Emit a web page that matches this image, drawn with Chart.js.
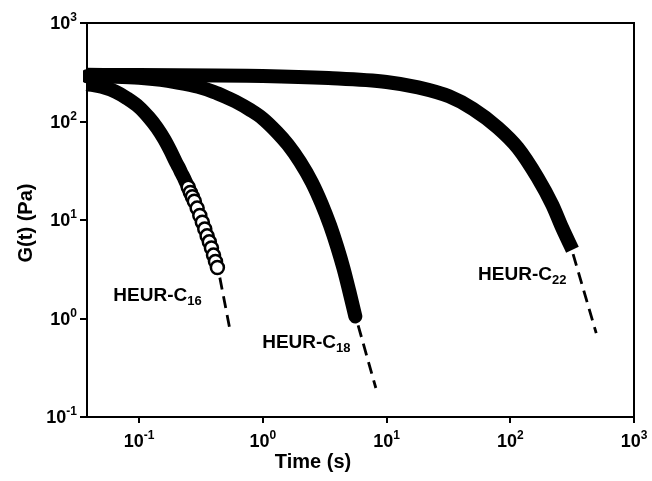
<!DOCTYPE html>
<html>
<head>
<meta charset="utf-8">
<script src="https://cdn.jsdelivr.net/npm/chart.js@4.4.0/dist/chart.umd.min.js"></script>
<style>
  body { margin: 0; background: #fff; }
  #wrap { width: 652px; height: 481px; }
</style>
</head>
<body>
<div id="wrap"><canvas id="myChart" width="652" height="481"></canvas></div>
<script>
// decade ticks on both log axes
const xTicks = [0.1, 1, 10, 100, 1000];
const yTicks = [0.1, 1, 10, 100, 1000];

// HEUR-C16, time (s) and G(t) (Pa)
const c16Time = [0.038, 0.05, 0.065, 0.08, 0.1, 0.12, 0.14, 0.16, 0.18,
  0.20, 0.21, 0.22, 0.23, 0.24, 0.25, 0.26, 0.27, 0.28, 0.295, 0.31,
  0.325, 0.34, 0.355, 0.37, 0.385, 0.40, 0.415, 0.43];
const c16G = [240, 225, 200, 172, 140, 110, 86, 66, 50,
  38, 34, 30, 27, 24, 21.5, 19, 17.2, 15.5, 13.2, 11.1,
  9.5, 8.1, 6.9, 6.0, 5.2, 4.4, 3.8, 3.3];

// HEUR-C18
const c18Time = [0.038, 0.06, 0.1, 0.15, 0.2, 0.3, 0.4, 0.5, 0.6, 0.8, 1.0, 1.3, 1.6, 2.0, 2.5, 3.0, 3.5, 4.0, 4.5, 5.0, 5.6];
const c18G = [288, 285, 278, 265, 250, 225, 200, 178, 160, 130, 107, 78, 58, 39, 24, 14.5, 8.8, 5.3, 3.2, 1.9, 1.05];

// HEUR-C22
const c22Time = [0.038, 0.1, 1, 3.4, 10, 18, 32, 50, 79, 115, 166, 219, 263, 318];
const c22G = [298, 296, 290, 276, 252, 222, 180, 134, 87, 54, 27, 14.2, 8.3, 5.0];

// dashed fit extensions
const c16FitTime = [0.45, 0.54];
const c16FitG = [2.6, 0.8];
const c18FitTime = [5.9, 8.2];
const c18FitG = [0.85, 0.197];
const c22FitTime = [322, 495];
const c22FitG = [4.5, 0.71];

const names = ["HEUR-C", "HEUR-C", "HEUR-C"];
const subs = ["16", "18", "22"];

const pts = (ts, gs) => ts.map((t, i) => ({ x: t, y: gs[i] }));
const FONT = "'Liberation Sans', Arial, sans-serif";

function fitSet(ts, gs) {
  return {
    data: pts(ts, gs),
    borderColor: "#000",
    borderWidth: 2.8,
    borderDash: [12, 7],
    pointRadius: 0,
    fill: false,
  };
}

const data = {
  datasets: [
    {
      label: "HEUR-C16",
      data: pts(c16Time, c16G),
      borderColor: "#000",
      borderWidth: 14,
      borderCapStyle: "butt",
      segment: {
        borderColor: (c) => (c.p0.parsed.y < 20 ? "rgba(0,0,0,0)" : "#000"),
      },
      pointRadius: (c) => (c.raw && c.raw.y < 22 ? 6.5 : 0),
      pointBackgroundColor: "#fff",
      pointBorderColor: "#000",
      pointBorderWidth: 2.5,
      cubicInterpolationMode: "monotone",
      clip: 4,
    },
    {
      label: "HEUR-C18",
      data: pts(c18Time, c18G),
      borderColor: "#000",
      borderWidth: 14,
      borderCapStyle: "round",
      pointRadius: 0,
      cubicInterpolationMode: "monotone",
      clip: 4,
    },
    {
      label: "HEUR-C22",
      data: pts(c22Time, c22G),
      borderColor: "#000",
      borderWidth: 14,
      borderCapStyle: "butt",
      pointRadius: 0,
      cubicInterpolationMode: "monotone",
      clip: 4,
    },
    fitSet(c16FitTime, c16FitG),
    fitSet(c18FitTime, c18FitG),
    fitSet(c22FitTime, c22FitG),
  ],
};

// label anchors (time, G) for the curve names
const labelAt = [
  { x: 0.062, y: 1.5 },
  { x: 0.99, y: 0.5 },
  { x: 55, y: 2.45 },
];

function drawPower(ctx, px, baseline, value, align) {
  const base = "10";
  const sup = String(Math.round(Math.log10(value)));
  ctx.font = "bold 18px " + FONT;
  const wb = ctx.measureText(base).width;
  ctx.font = "bold 12px " + FONT;
  const ws = ctx.measureText(sup).width;
  let x0 = px - (wb + ws) / 2;
  if (align === "right") x0 = px - wb - ws;
  ctx.textAlign = "left";
  ctx.textBaseline = "alphabetic";
  ctx.font = "bold 18px " + FONT;
  ctx.fillText(base, x0, baseline);
  ctx.font = "bold 12px " + FONT;
  ctx.fillText(sup, x0 + wb, baseline - 8);
}

const overlay = {
  id: "overlay",
  afterDraw(chart) {
    const { ctx, chartArea: a } = chart;
    const x = chart.scales.x;
    const y = chart.scales.y;
    ctx.save();
    ctx.strokeStyle = "#000";
    ctx.lineWidth = 2;
    ctx.strokeRect(a.left, a.top, a.right - a.left, a.bottom - a.top);
    ctx.fillStyle = "#000";

    xTicks.forEach((v) => drawPower(ctx, x.getPixelForValue(v), a.bottom + 30, v, "center"));
    yTicks.forEach((v) => drawPower(ctx, a.left - 10, y.getPixelForValue(v) + 6, v, "right"));

    // axis titles
    ctx.font = "bold 20px " + FONT;
    ctx.textAlign = "center";
    ctx.textBaseline = "middle";
    ctx.fillText("Time (s)", 313, 462);
    ctx.save();
    ctx.translate(26, 223);
    ctx.rotate(-Math.PI / 2);
    ctx.fillText("G(t) (Pa)", 0, 0);
    ctx.restore();

    // curve names with subscripts
    ctx.textAlign = "left";
    ctx.textBaseline = "alphabetic";
    labelAt.forEach((p, i) => {
      const px = x.getPixelForValue(p.x);
      const py = y.getPixelForValue(p.y);
      ctx.font = "bold 19px " + FONT;
      ctx.fillText(names[i], px, py);
      const w = ctx.measureText(names[i]).width;
      ctx.font = "bold 13px " + FONT;
      ctx.fillText(subs[i], px + w, py + 4);
    });
    ctx.restore();
  },
};

const decades = (list) => (scale) => {
  scale.ticks = list.map((v) => ({ value: v }));
};

const config = {
  type: "line",
  data: data,
  options: {
    responsive: false,
    animation: false,
    layout: { padding: { left: 0, top: 23, right: 18, bottom: 0 } },
    plugins: {
      legend: { display: false },
      tooltip: { enabled: false },
    },
    scales: {
      x: {
        type: "logarithmic",
        min: 0.038,
        max: 1000,
        afterBuildTicks: decades(xTicks),
        afterFit: (s) => { s.height = 64; },
        ticks: { display: false },
        border: { display: false },
        grid: { drawOnChartArea: false, drawTicks: true, tickLength: 6, color: "#000", lineWidth: 2 },
      },
      y: {
        type: "logarithmic",
        min: 0.1,
        max: 1000,
        afterBuildTicks: decades(yTicks),
        afterFit: (s) => { s.width = 87; },
        ticks: { display: false },
        border: { display: false },
        grid: { drawOnChartArea: false, drawTicks: true, tickLength: 7, color: "#000", lineWidth: 2 },
      },
    },
  },
  plugins: [overlay],
};

new Chart(document.getElementById("myChart"), config);
</script>
</body>
</html>
